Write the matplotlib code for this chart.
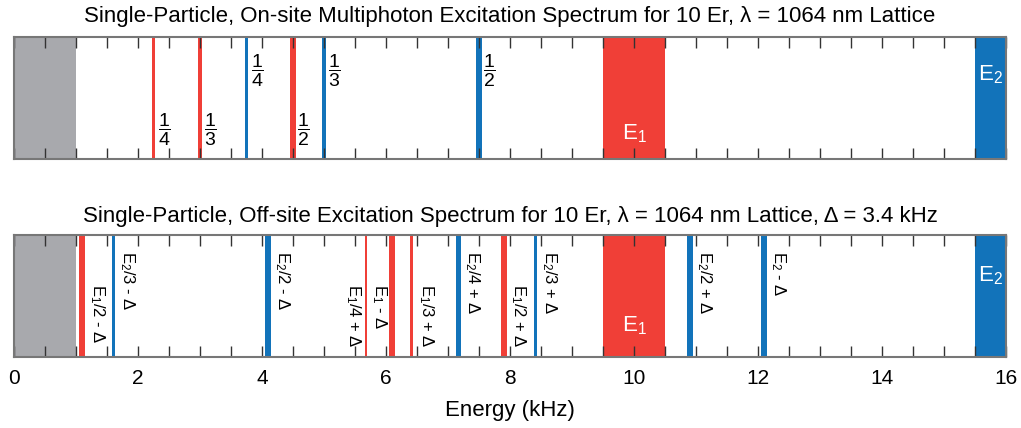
import numpy as np
import matplotlib
matplotlib.use("Agg")
import matplotlib.pyplot as plt

plt.rcParams['font.family'] = ['Liberation Sans', 'DejaVu Sans']
plt.rcParams['mathtext.fontset'] = 'custom'
plt.rcParams['mathtext.rm'] = 'Liberation Sans'
plt.rcParams['mathtext.it'] = 'Liberation Sans:italic'
plt.rcParams['mathtext.default'] = 'rm'

red = "#F03F37"
blue = "#1273BA"
gray = "#A8A9AD"

# bands (start, end) in kHz
ground = (0.0, 1.0)
e1_band = (9.5, 10.5)
e2_band = (15.5, 16.0)

# top panel: on-site multiphoton lines
top_red_pos = [2.25, 3.0, 4.5]
top_red_w = [0.04, 0.05, 0.1]
top_red_lab = [r"$\dfrac{1}{4}$", r"$\dfrac{1}{3}$", r"$\dfrac{1}{2}$"]
top_blue_pos = [3.75, 5.0, 7.5]
top_blue_w = [0.04, 0.05, 0.1]
top_blue_lab = [r"$\dfrac{1}{4}$", r"$\dfrac{1}{3}$", r"$\dfrac{1}{2}$"]

# bottom panel: off-site lines, delta = 3.4 kHz
bot_red_pos = [1.1, 5.68, 6.1, 6.41, 7.9]
bot_red_w = [0.1, 0.035, 0.1, 0.05, 0.1]
bot_red_lab = ["E$_1$/2 - Δ", "E$_1$/4 + Δ", "E$_1$ - Δ", "E$_1$/3 + Δ", "E$_1$/2 + Δ"]
bot_red_side = ["right", "left", "left", "right", "right"]
bot_blue_pos = [1.6, 4.1, 7.17, 8.41, 10.9, 12.1]
bot_blue_w = [0.05, 0.1, 0.09, 0.05, 0.1, 0.1]
bot_blue_lab = ["E$_2$/3 - Δ", "E$_2$/2 - Δ", "E$_2$/4 + Δ", "E$_2$/3 + Δ", "E$_2$/2 + Δ", "E$_2$ - Δ"]


def base(ax, title, pad):
    ax.axvspan(*ground, color=gray, lw=0)
    ax.axvspan(*e1_band, color=red, lw=0)
    ax.axvspan(*e2_band, color=blue, lw=0)
    ax.set_xlim(0, 16)
    ax.set_ylim(0, 1)
    ax.set_yticks([])
    ax.set_xticks(np.arange(0, 17, 2))
    ax.set_xticks(np.arange(0, 16.01, 0.5), minor=True)
    ax.tick_params(axis='x', which='both', direction='in', top=True, bottom=True,
                   length=8, width=1, color='#333333', labelsize=15, pad=9)
    for s in ax.spines.values():
        s.set_color('#777777')
        s.set_linewidth(1.5)
    ax.set_title(title, fontsize=16, pad=pad)


def lines(ax, pos, widths, color):
    for p, w in zip(pos, widths):
        ax.axvspan(p - w / 2, p + w / 2, color=color, lw=0)


fig = plt.figure(figsize=(10.21, 4.28), dpi=100)
ax1 = fig.add_axes([0.0137, 0.6285, 0.9716, 0.285])
ax2 = fig.add_axes([0.0137, 0.166, 0.9716, 0.285])

base(ax1, "Single-Particle, On-site Multiphoton Excitation Spectrum for 10 Er, λ = 1064 nm Lattice", 11)
base(ax2, "Single-Particle, Off-site Excitation Spectrum for 10 Er, λ = 1064 nm Lattice, Δ = 3.4 kHz", 9)
ax1.tick_params(axis='x', which='both', labelbottom=False)

lines(ax1, top_red_pos, top_red_w, red)
lines(ax1, top_blue_pos, top_blue_w, blue)
for p, lab in zip(top_red_pos, top_red_lab):
    ax1.text(p + 0.07, 0.24, lab, fontsize=14, ha='left', va='center')
for p, lab in zip(top_blue_pos, top_blue_lab):
    ax1.text(p + 0.07, 0.72, lab, fontsize=14, ha='left', va='center')

lines(ax2, bot_red_pos, bot_red_w, red)
lines(ax2, bot_blue_pos, bot_blue_w, blue)
for p, lab, side in zip(bot_red_pos, bot_red_lab, bot_red_side):
    dx = 0.09 if side == "right" else -0.06
    ax2.text(p + dx, 0.6, lab, fontsize=12, rotation=270,
             ha='left' if side == "right" else 'right', va='top')
for p, lab in zip(bot_blue_pos, bot_blue_lab):
    ax2.text(p + 0.08, 0.87, lab, fontsize=12, rotation=270, ha='left', va='top')

for ax, y1, y2 in [(ax1, 0.21, 0.69), (ax2, 0.26, 0.67)]:
    ax.text(np.mean(e1_band), y1, "E$_1$", color='white', fontsize=16, ha='center', va='center')
    ax.text(np.mean(e2_band), y2, "E$_2$", color='white', fontsize=16, ha='center', va='center')

ax2.set_xlabel("Energy (kHz)", fontsize=16, labelpad=8)

fig.savefig("out.png", dpi=100)
